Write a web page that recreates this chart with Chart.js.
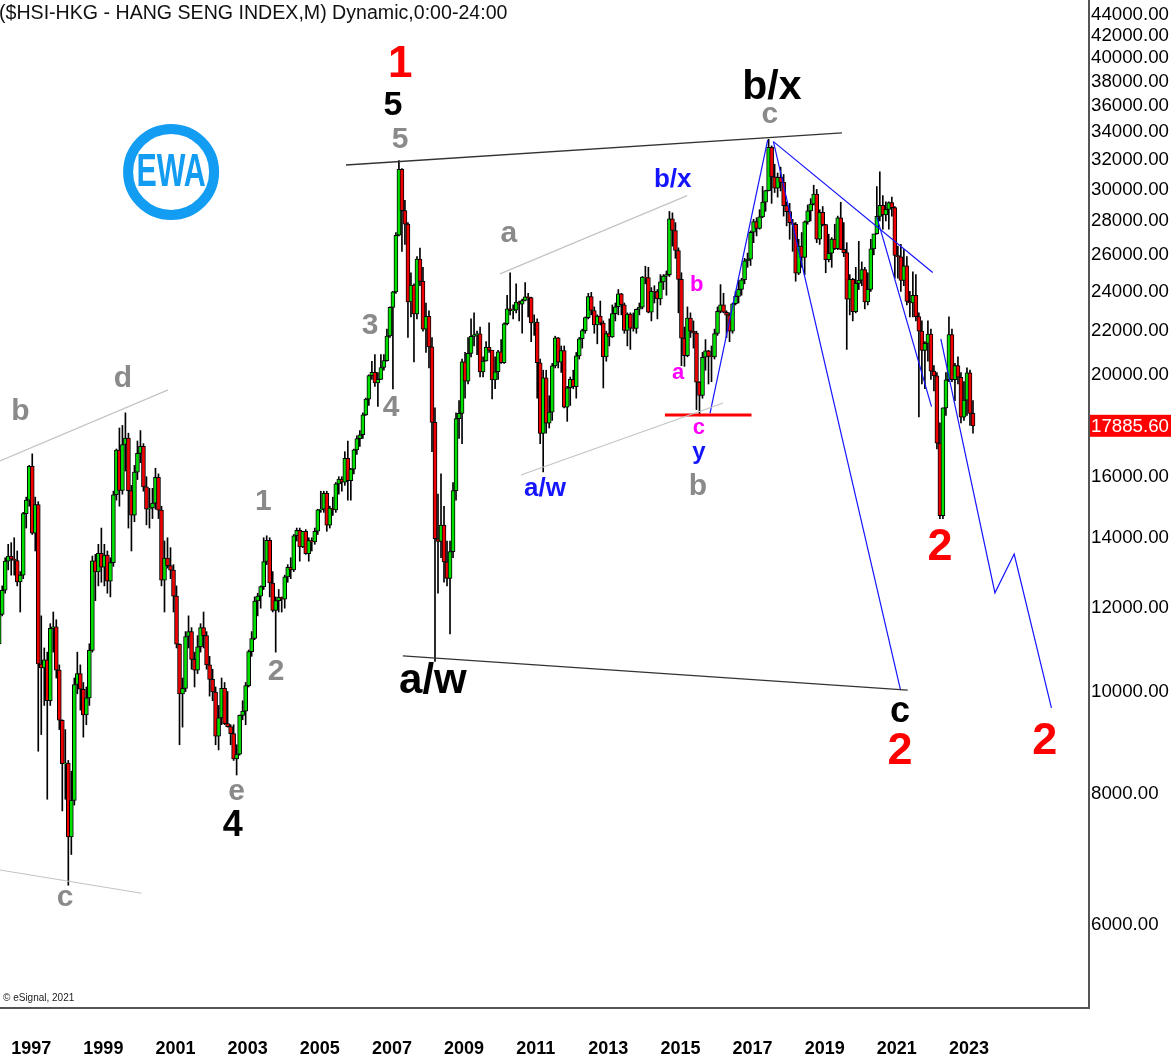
<!DOCTYPE html>
<html>
<head>
<meta charset="utf-8">
<script src="https://cdn.jsdelivr.net/npm/chart.js@4.4.0/dist/chart.umd.min.js"></script>
<style>
html,body{margin:0;padding:0;background:#fff;}
#wrap{width:1171px;height:1054px;position:relative;}
</style>
</head>
<body>
<div id="wrap"><canvas id="c"></canvas></div>
<script>
// ---------- DATA (monthly HSI, months counted from Jan 1997 = 0; first bar Sep 1996) ----------
const firstMonthIndex = -4;
const opens = [
 11100,11840,12480,13300,
 13450,13360,13320,12710,12900,14760,15200,16365,14140,15050,10620,10530,
 10720,9800,11480,11520,10480,9390,8540,8550,7275,7880,10155,10400,
 10050,9500,9860,10940,13310,12990,13530,13130,13480,12730,13260,15380,
 16960,15530,17170,17410,15520,14710,16160,16840,17100,15650,14900,14940,
 15100,15980,14870,12760,13390,13170,13040,12320,11090,9950,10070,11280,
 11400,10730,10480,11030,11500,11300,10600,10270,9990,9070,9440,10070,
 9320,9260,9120,8630,8720,9490,9580,10130,10910,11230,12190,12320,
 12580,13290,13920,12680,11940,12200,12290,12240,12850,13120,13050,14060,
 14230,13720,14200,13520,13910,13870,14200,14880,14900,15430,14390,14940,
 14880,15750,15920,15810,16660,15860,16270,16970,17390,17540,18320,18960,
 19960,20110,19650,19800,20320,20630,21770,23180,23980,27140,31350,28640,
 27810,23460,24330,22850,25760,24530,22100,22730,21260,18020,13970,13890,
 14390,13280,12810,13580,15520,18170,18380,20570,19720,20960,21750,21820,
 21870,20120,20610,21240,21110,19770,20130,21030,20540,22360,23100,23010,
 23040,23450,23340,23530,23720,23680,22400,22440,20530,17590,19860,17990,
 18430,20390,21680,20560,21090,18630,19440,19800,19480,20840,21640,22030,
 22660,23730,23020,22300,22740,22390,20800,21880,21730,22860,23210,23880,
 23310,22040,22840,22150,22130,23080,23190,24760,24740,22930,24000,23990,
 23610,24510,24820,24900,28130,27420,26250,24640,21670,20850,22640,22000,
 21910,19680,19110,20780,21070,20820,20790,21890,22980,23300,22930,22790,
 22000,23360,23740,24110,24620,25660,25760,27320,27970,27550,28250,29180,
 29920,32890,30840,30090,30810,30470,28960,28580,27890,27790,24980,26510,
 25850,27940,28630,29050,29700,26900,28540,27780,25720,26090,26910,26350,
 28190,26310,26130,23600,24640,22960,24430,24600,25180,23460,24110,26340,
 27230,28280,28980,28380,28720,29150,28830,25960,25880,24580,25380,23480,
 23400,23800,22710,22000,21090,21420,21860,20160,19950,17220,14690,18600,
 19780,21840,19790,20400,19890,18230,18920,20080,18380
];
const highs = [
 11900,12600,13400,13800,
 13850,14000,13600,13000,14800,15300,16400,16820,15300,15150,11800,11000,
 10900,11600,11900,11700,10600,9400,9200,8600,8400,10300,10900,10600,
 10200,10100,11100,13450,13500,13800,14300,13800,13600,13400,15500,17000,
 17800,17900,18400,17600,15700,16400,17300,17700,17200,16000,15600,15600,
 16300,16100,15000,13900,14000,13700,13200,12600,11100,10300,11400,11800,
 11500,10900,11300,11600,11900,11400,10800,10500,10100,9700,10300,10200,
 10000,9300,9300,8900,9500,9800,10200,10950,11400,12300,12400,12600,
 14000,14060,14000,13000,12300,12500,12300,12900,13200,13400,14100,14300,
 14300,14200,14250,14000,14000,14300,14900,15500,15500,15500,15000,15300,
 15800,16000,16000,16900,17300,16300,17000,17500,17700,18400,19000,20000,
 20600,20900,20100,20900,20900,22100,23200,24000,27300,31960,31400,29300,
 27900,25000,24400,25900,26390,25300,23400,23000,21700,18600,15400,16100,
 15000,13900,13900,15800,18400,18900,20700,21000,21700,22600,22900,22000,
 22200,20800,21500,22400,21100,20800,21100,21600,22400,23800,24990,23300,
 24400,23500,23600,24470,23900,23700,22800,22600,20700,20200,20200,19100,
 20500,21760,21700,21300,21300,19500,19900,20200,21000,21700,22100,22700,
 23900,23950,23200,22800,23500,22500,22000,22600,23300,23400,24100,23900,
 23400,22900,22900,22900,23100,23400,24800,25360,25300,24200,24300,24100,
 24900,24900,25100,28590,28500,27900,26400,25000,22200,23200,22900,22500,
 22000,19700,21000,21600,21100,21300,22100,23200,24360,23900,23000,22900,
 23400,24000,24600,24700,25800,26100,27400,28100,28200,28700,30200,29950,
 33480,33000,31700,31100,31500,31000,29200,29100,28100,27900,26900,27300,
 28000,29000,29400,30280,30000,28700,28900,27800,27200,27000,27800,28300,
 29170,27900,26700,24900,24700,25300,26780,25600,25300,25000,26900,27200,
 30190,31180,29600,29200,29200,29500,28900,26500,26600,26300,25900,24000,
 25050,24900,22900,22500,21500,22500,22100,20400,20100,18000,18600,20100,
 22700,22100,20500,20800,20100,19700,20300,20200,18900
];
const lows = [
 11050,11800,12400,13050,
 12900,12900,12600,11900,12800,14300,15000,14100,13600,8775,9100,9700,
 7900,9700,10900,10300,9200,7700,7900,6545,7000,7800,9950,9600,
 9050,9300,9700,10900,12200,12600,12700,12600,12400,12300,13150,15200,
 15000,15400,16200,14300,13600,14500,15900,16500,15500,14400,14300,14600,
 14900,14600,12600,11900,13100,12800,11900,11000,8900,9250,10000,11000,
 10500,10100,10400,10900,11000,10500,9900,9800,8900,8800,9300,9300,
 9250,8900,8600,8330,8700,9400,9300,10100,10800,11200,11800,12000,
 12500,13200,12300,11900,10900,11900,11900,12000,12700,12800,13000,13900,
 13300,13700,13500,13300,13600,13800,14100,14800,14800,14200,14300,14700,
 14800,15400,15500,15700,15200,15200,16100,16800,17100,17400,18300,18700,
 19800,19500,18660,19800,20200,20600,21700,19390,23900,27100,26200,26600,
 21700,22700,20570,22600,24300,22000,21000,20300,16900,10680,12400,13400,
 12700,12600,11340,13400,15200,17400,17200,19000,19600,20800,21300,20900,
 19900,19900,20600,21000,18970,19400,19800,20500,20500,22300,22800,22600,
 22900,22500,21900,23500,22700,21500,21800,19000,17200,16170,17600,17800,
 18100,20300,20300,20100,18600,18060,18700,19400,19000,20700,21200,21900,
 22600,22800,21900,21400,22300,19430,20600,21300,21700,22500,22800,22800,
 21900,21300,21140,22000,21900,22800,23100,24400,22900,22500,23400,22600,
 23300,24100,23800,24800,26500,25800,22900,20400,20370,20800,21700,21200,
 18530,18280,19000,20200,19600,19700,20700,21800,22900,22900,21700,21500,
 21900,23300,23400,23800,24400,25300,25400,26700,27100,27500,28200,28600,
 29900,29100,29800,29500,29900,28300,27700,26900,26200,24540,24900,25300,
 24900,27800,28000,29000,26700,26600,27700,25000,25600,25300,26300,26300,
 26300,25900,21140,22800,22500,22900,24100,24300,23100,23300,24000,26000,
 27200,28000,27500,28000,27500,28300,24700,24700,24000,24300,23300,22700,
 22700,22500,18240,19600,19400,20600,19800,19300,17000,14600,14600,18300,
 19700,19700,18900,19600,18000,18100,18300,17900,17600
];
const closes = [
 11840,12480,13300,13450,
 13360,13320,12710,12900,14760,15200,16365,14140,15050,10620,10530,10720,
 9800,11480,11520,10480,9390,8540,8550,7275,7880,10155,10400,10050,
 9500,9860,10940,13310,12990,13530,13130,13480,12730,13260,15380,16960,
 15530,17170,17410,15520,14710,16160,16840,17100,15650,14900,14940,15100,
 15980,14870,12760,13390,13170,13040,12320,11090,9950,10070,11280,11400,
 10730,10480,11030,11500,11300,10600,10270,9990,9070,9440,10070,9320,
 9260,9120,8630,8720,9490,9580,10130,10910,11230,12190,12320,12580,
 13290,13920,12680,11940,12200,12290,12240,12850,13120,13050,14060,14230,
 13720,14200,13520,13910,13870,14200,14880,14900,15430,14390,14940,14880,
 15750,15920,15810,16660,15860,16270,16970,17390,17540,18320,18960,19960,
 20110,19650,19800,20320,20630,21770,23180,23980,27140,31350,28640,27810,
 23460,24330,22850,25760,24530,22100,22730,21260,18020,13970,13890,14390,
 13280,12810,13580,15520,18170,18380,20570,19720,20960,21750,21820,21870,
 20120,20610,21240,21110,19770,20130,21030,20540,22360,23100,23010,23040,
 23450,23340,23530,23720,23680,22400,22440,20530,17590,19860,17990,18430,
 20390,21680,20560,21090,18630,19440,19800,19480,20840,21640,22030,22660,
 23730,23020,22300,22740,22390,20800,21880,21730,22860,23210,23880,23310,
 22040,22840,22150,22130,23080,23190,24760,24740,22930,24000,23990,23610,
 24510,24820,24900,28130,27420,26250,24640,21670,20850,22640,22000,21910,
 19680,19110,20780,21070,20820,20790,21890,22980,23300,22930,22790,22000,
 23360,23740,24110,24620,25660,25760,27320,27970,27550,28250,29180,29920,
 32890,30840,30090,30810,30470,28960,28580,27890,27790,24980,26510,25850,
 27940,28630,29050,29700,26900,28540,27780,25720,26090,26910,26350,28190,
 26310,26130,23600,24640,22960,24430,24600,25180,23460,24110,26340,27230,
 28280,28980,28380,28720,29150,28830,25960,25880,24580,25380,23480,23400,
 23800,22710,22000,21090,21420,21860,20160,19950,17220,14690,18600,19780,
 21840,19790,20400,19890,18230,18920,20080,18380,17885.6
];
const lastPrice = 17885.60;
const yTickValues = [6000,8000,10000,12000,14000,16000,20000,22000,24000,26000,28000,30000,32000,34000,36000,38000,40000,42000,44000];
const xTickYears = [1997,1999,2001,2003,2005,2007,2009,2011,2013,2015,2017,2019,2021,2023];

// trend / wave lines in data space [monthIndex, price]
const upperTrend   = [[111.4,31650],[276.4,33950]];
const lowerTrend   = [[130.3,10810],[298.3,10030]];
const bdLine       = [[-3.73,16560],[52.2,19350]];
const cLine        = [[-3.73,6767],[43.4,6431]];
const aBxLine      = [[162.6,24940],[224.9,29600]];
const awYLine      = [[169.6,16060],[236.9,18800]];
const redLevel     = [[217.5,18315],[246.3,18315]];
const blueUp       = [[232.5,18380],[251.7,33430]];
const blueDown     = [[253.6,33310],[295.9,10030]];
const blueUpper    = [[253.6,33310],[306.6,25010]];
const blueLower    = [[288.0,28250],[306.2,18650]];
const blueProject  = [[309.3,21630],[327.3,12410],[333.7,13510],[346.1,9650]];

// ---------- STYLE ----------
const FONT = '"Liberation Sans", Arial, Helvetica, sans-serif';
const GRAY = '#8a8a8a', BLUE = '#1414ff', PINK = '#ff00ff', RED = '#ff0000';
const X_MIN = -3.73, X_MAX = 358.6, Y_MIN = 5003, Y_MAX = 45410;

const waveLabels = [
 {t:'1',   m:129.4, v:39400, c:RED,    s:44},
 {t:'5',   m:127.0, v:36010, c:'#000', s:34},
 {t:'5',   m:129.4, v:33430, c:GRAY,   s:30},
 {t:'b/x', m:253.1, v:37460, c:'#000', s:41},
 {t:'c',   m:252.4, v:35300, c:GRAY,   s:30},
 {t:'b/x', m:220.1, v:30630, c:BLUE,   s:26},
 {t:'a',   m:165.6, v:27210, c:GRAY,   s:30},
 {t:'3',   m:119.4, v:22250, c:GRAY,   s:30},
 {t:'4',   m:126.4, v:18600, c:GRAY,   s:30},
 {t:'b',   m:3.1,   v:18430, c:GRAY,   s:30},
 {t:'d',   m:37.2,  v:19820, c:GRAY,   s:30},
 {t:'b',   m:228.1, v:24340, c:PINK,   s:22},
 {t:'a',   m:221.9, v:20080, c:PINK,   s:22},
 {t:'c',   m:228.8, v:17800, c:PINK,   s:22},
 {t:'y',   m:228.8, v:16890, c:BLUE,   s:24},
 {t:'a/w', m:177.6, v:15580, c:BLUE,   s:26},
 {t:'b',   m:228.5, v:15650, c:GRAY,   s:30},
 {t:'1',   m:83.9,  v:15140, c:GRAY,   s:30},
 {t:'2',   m:309.0, v:13690, c:RED,    s:45},
 {t:'2',   m:88.1,  v:10440, c:GRAY,   s:30},
 {t:'a/w', m:140.3, v:10230, c:'#000', s:42},
 {t:'c',   m:295.7, v:9563,  c:'#000', s:36},
 {t:'2',   m:295.7, v:8761,  c:RED,    s:45},
 {t:'2',   m:343.9, v:8955,  c:RED,    s:45},
 {t:'e',   m:75.0,  v:8027,  c:GRAY,   s:30},
 {t:'4',   m:73.7,  v:7452,  c:'#000', s:36},
 {t:'c',   m:17.9,  v:6365,  c:GRAY,   s:30}
];
const logoPos = {m:53.2, v:31170};

// ---------- BUILD ----------
const bodyData = [], wickData = [], bodyColors = [];
for (let i = 0; i < closes.length; i++) {
  const m = firstMonthIndex + i;
  bodyData.push({x:m, y:[opens[i], closes[i]]});
  wickData.push({x:m, y:[lows[i], highs[i]]});
  bodyColors.push(closes[i] >= opens[i] ? '#00e000' : '#f00000');
}
function lineDS(pts, color, width) {
  return {type:'line', data:pts.map(p => ({x:p[0], y:p[1]})), borderColor:color, borderWidth:width,
          pointRadius:0, fill:false, tension:0, order:0};
}
const datasets = [
  lineDS(bdLine, '#c4c4c4', 1.2),
  lineDS(cLine, '#c4c4c4', 1.2),
  lineDS(aBxLine, '#c4c4c4', 1.2),
  lineDS(awYLine, '#c4c4c4', 1.2),
  lineDS(upperTrend, '#333', 1.4),
  lineDS(lowerTrend, '#333', 1.4),
  lineDS(redLevel, '#ff0000', 3),
  lineDS(blueUp, BLUE, 1.2),
  lineDS(blueDown, BLUE, 1.2),
  lineDS(blueUpper, BLUE, 1.2),
  lineDS(blueLower, BLUE, 1.2),
  lineDS(blueProject, BLUE, 1.2),
  {type:'bar', data:bodyData, backgroundColor:bodyColors, borderColor:'#000', borderWidth:1,
   borderSkipped:false, barThickness:4, grouped:false, order:1},
  {type:'bar', data:wickData, backgroundColor:'#000', borderWidth:0, barThickness:1, grouped:false, order:2}
];

const annotPlugin = {
  id:'annot',
  afterDatasetsDraw(chart) {
    const {ctx, scales:{x, y}} = chart;
    ctx.save();
    // EWA logo
    const lx = x.getPixelForValue(logoPos.m), ly = y.getPixelForValue(logoPos.v);
    ctx.beginPath();
    ctx.arc(lx, ly, 43, 0, Math.PI*2);
    ctx.strokeStyle = '#129cf2';
    ctx.lineWidth = 10;
    ctx.stroke();
    ctx.save();
    ctx.translate(lx, ly);
    ctx.scale(0.66, 1);
    ctx.font = 'bold 46px ' + FONT;
    ctx.fillStyle = '#129cf2';
    ctx.textAlign = 'center';
    ctx.textBaseline = 'middle';
    ctx.fillText('EWA', 0, 1);
    ctx.restore();
    // wave labels
    ctx.textAlign = 'center';
    ctx.textBaseline = 'middle';
    waveLabels.forEach(l => {
      ctx.font = 'bold ' + l.s + 'px ' + FONT;
      ctx.fillStyle = l.c;
      ctx.fillText(l.t, x.getPixelForValue(l.m), y.getPixelForValue(l.v));
    });
    ctx.restore();
  },
  afterDraw(chart) {
    const {ctx, chartArea, scales:{y}} = chart;
    ctx.save();
    // title
    ctx.font = '19.6px ' + FONT;
    ctx.fillStyle = '#111';
    ctx.textAlign = 'left';
    ctx.textBaseline = 'alphabetic';
    ctx.fillText('($HSI-HKG - HANG SENG INDEX,M) Dynamic,0:00-24:00', chartArea.left - 1, chartArea.top + 19);
    // copyright
    ctx.font = '10px ' + FONT;
    ctx.fillStyle = '#222';
    ctx.fillText('\u00A9 eSignal, 2021', chartArea.left + 3, chartArea.bottom - 7);
    // last price box
    const py = y.getPixelForValue(lastPrice);
    ctx.fillStyle = '#ff0000';
    ctx.fillRect(chartArea.right + 1, py - 11, 82, 22);
    ctx.fillStyle = '#fff';
    ctx.font = '18.7px ' + FONT;
    ctx.textBaseline = 'middle';
    ctx.fillText(lastPrice.toFixed(2), chartArea.right + 2, py + 1);
    ctx.restore();
  }
};

new Chart(document.getElementById('c'), {
  type:'bar',
  data:{datasets},
  options:{
    responsive:true, maintainAspectRatio:false, animation:false, events:[],
    layout:{padding:0},
    plugins:{legend:{display:false}, tooltip:{enabled:false}, title:{display:false}},
    scales:{
      x:{
        type:'linear', min:X_MIN, max:X_MAX, offset:false,
        grid:{display:false, drawTicks:false},
        border:{display:true, color:'#555', width:2},
        ticks:{align:'start', padding:30, autoSkip:false, maxRotation:0, minRotation:0, color:'#000',
               font:{family:FONT, size:18, weight:'bold'},
               callback:v => String(1997 + Math.round(v/12))},
        afterBuildTicks:s => { s.ticks = xTickYears.map(yr => ({value:(yr-1997)*12})); },
        afterFit:s => { s.height = 46; s.paddingLeft = 0; s.paddingRight = 0; }
      },
      y:{
        type:'logarithmic', position:'right', min:Y_MIN, max:Y_MAX,
        grid:{display:false, drawTicks:false},
        border:{display:true, color:'#555', width:2},
        ticks:{padding:2, autoSkip:false, color:'#000', font:{family:FONT, size:18.7},
               callback:v => Number(v).toFixed(2)},
        afterBuildTicks:s => { s.ticks = yTickValues.map(v => ({value:v})); },
        afterFit:s => { s.width = 82; s.paddingTop = 0; s.paddingBottom = 0; }
      }
    }
  },
  plugins:[annotPlugin]
});
</script>
</body>
</html>
